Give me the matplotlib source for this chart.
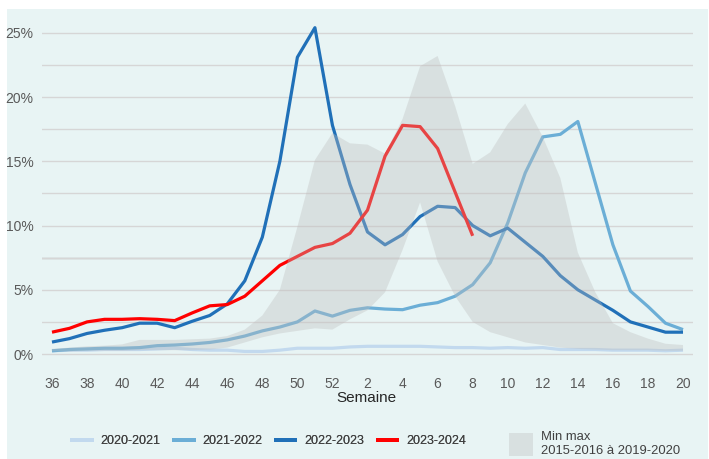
import matplotlib
matplotlib.use("Agg")
import matplotlib.pyplot as plt
from matplotlib.patches import Rectangle, Patch
from matplotlib.lines import Line2D
from matplotlib.ticker import FuncFormatter, MultipleLocator

plt.rcParams['font.family'] = ['Liberation Sans', 'DejaVu Sans']

weeks = [36, 37, 38, 39, 40, 41, 42, 43, 44, 45, 46, 47, 48, 49, 50, 51, 52,
         1, 2, 3, 4, 5, 6, 7, 8, 9, 10, 11, 12, 13, 14, 15, 16, 17, 18, 19, 20]

s2020_2021 = [0.25, 0.3, 0.3, 0.35, 0.35, 0.35, 0.4, 0.45, 0.35, 0.3, 0.3, 0.2, 0.2, 0.3, 0.45, 0.45, 0.45,
              0.55, 0.6, 0.6, 0.6, 0.6, 0.55, 0.5, 0.5, 0.45, 0.5, 0.45, 0.5, 0.35, 0.35, 0.35, 0.3, 0.3, 0.3, 0.25, 0.3]
s2021_2022 = [0.25, 0.35, 0.4, 0.45, 0.45, 0.5, 0.65, 0.7, 0.78, 0.9, 1.1, 1.4, 1.8, 2.1, 2.5, 3.35, 2.95,
              3.4, 3.6, 3.5, 3.45, 3.8, 4.0, 4.5, 5.4, 7.1, 10.2, 14.1, 16.9, 17.1, 18.1, 13.3, 8.5, 4.9, 3.7, 2.4, 1.9]
s2022_2023 = [0.93, 1.2, 1.6, 1.85, 2.05, 2.4, 2.4, 2.05, 2.55, 3.0, 3.9, 5.7, 9.1, 15.0, 23.1, 25.4, 17.8,
              13.2, 9.5, 8.5, 9.3, 10.7, 11.5, 11.4, 10.0, 9.2, 9.8, 8.7, 7.6, 6.1, 5.0, 4.2, 3.4, 2.5, 2.1, 1.7, 1.7]
s2023_2024 = [1.7, 2.0, 2.5, 2.7, 2.7, 2.75, 2.7, 2.6, 3.2, 3.75, 3.85, 4.5, 5.7, 6.9, 7.6, 8.3, 8.6,
              9.4, 11.2, 15.4, 17.8, 17.7, 16.0, 12.6, 9.2]
minmax_low = [0.2, 0.2, 0.25, 0.25, 0.25, 0.3, 0.3, 0.3, 0.3, 0.35, 0.5, 0.9, 1.3, 1.6, 1.8, 2.0, 1.9,
              2.7, 3.4, 4.8, 8.1, 11.8, 7.2, 4.5, 2.5, 1.7, 1.3, 0.9, 0.7, 0.5, 0.4, 0.35, 0.3, 0.3, 0.3, 0.25, 0.25]
minmax_high = [0.4, 0.5, 0.6, 0.65, 0.75, 1.1, 1.1, 1.1, 1.15, 1.2, 1.4, 1.9, 3.0, 5.0, 9.9, 15.1, 17.2,
               16.4, 16.3, 15.6, 18.3, 22.4, 23.2, 19.3, 14.8, 15.7, 17.9, 19.5, 16.9, 13.7, 7.9, 4.8, 2.4, 1.7, 1.2, 0.8, 0.7]

series_labels = ['2020-2021', '2021-2022', '2022-2023', '2023-2024']
series_colors = ['#c2d9ee', '#6baed6', '#2070b8', '#ff0000']
band_label = 'Min max\n2015-2016 à 2019-2020'

W, H = 709, 459
fig = plt.figure(figsize=(W / 100, H / 100), dpi=100, facecolor='white')
fig.patches.append(Rectangle((7 / W, 0), (708 - 7) / W, (H - 9) / H,
                             transform=fig.transFigure, facecolor='#e8f4f4',
                             edgecolor='none', zorder=-10))

ax = fig.add_axes([42 / W, (H - 358) / H, (693 - 42) / W, (358 - 20) / H])
ax.set_facecolor('none')

x = list(range(len(weeks)))
band_color = '#bebebe'
band_alpha = 0.36

all_series = [s2020_2021, s2021_2022, s2022_2023, s2023_2024]
for i, (vals, col, lab) in enumerate(zip(all_series, series_colors, series_labels)):
    ax.plot(x[:len(vals)], vals, color=col, lw=2.3, zorder=2 + i * 0.1,
            solid_joinstyle='round', solid_capstyle='butt', label=lab)

ax.fill_between(x, minmax_low, minmax_high, facecolor=band_color, alpha=band_alpha,
                edgecolor='none', zorder=4)

ax.set_xlim(-0.57, 36.57)
ax.set_ylim(-0.31, 26.0)

ax.yaxis.set_major_locator(MultipleLocator(5))
ax.yaxis.set_minor_locator(MultipleLocator(2.5))
ax.yaxis.set_major_formatter(FuncFormatter(lambda v, p: f"{int(round(v))}%"))
ax.grid(axis='y', which='both', color='#d6d6d6', lw=1.0, zorder=0)
ax.axhline(7.5, color='#b5b8b8', lw=1.0, zorder=0.5)
ax.set_axisbelow(True)

ax.set_xticks(x[::2])
ax.set_xticklabels([str(w) for w in weeks[::2]])
for s in ax.spines.values():
    s.set_visible(False)
ax.tick_params(axis='x', length=0, pad=14, labelsize=10, labelcolor='#595959')
ax.tick_params(axis='y', which='both', length=0, pad=6, labelsize=10, labelcolor='#595959')

fig.text(366 / W, 1 - 398 / H, 'Semaine', ha='center', va='center', fontsize=11, color='#262626')

handles = [Line2D([], [], color=c, lw=2.8) for c in series_colors]
leg1 = fig.legend(handles, series_labels, loc='center left',
                  bbox_to_anchor=(66 / W, 1 - 441 / H), ncol=4, frameon=False,
                  fontsize=9, handlelength=1.55, handletextpad=0.7,
                  columnspacing=1.1, borderpad=0, labelcolor='#404040')
fig.add_artist(leg1)
patch = Patch(facecolor=band_color, alpha=band_alpha, edgecolor='none')
leg2 = fig.legend([patch], [band_label], loc='center left',
                  bbox_to_anchor=(502 / W, 1 - 444 / H), frameon=False,
                  fontsize=9.4, handlelength=1.85, handleheight=2.3,
                  handletextpad=0.6, borderpad=0, labelcolor='#404040')

fig.savefig('out.png', dpi=100, facecolor='white')
